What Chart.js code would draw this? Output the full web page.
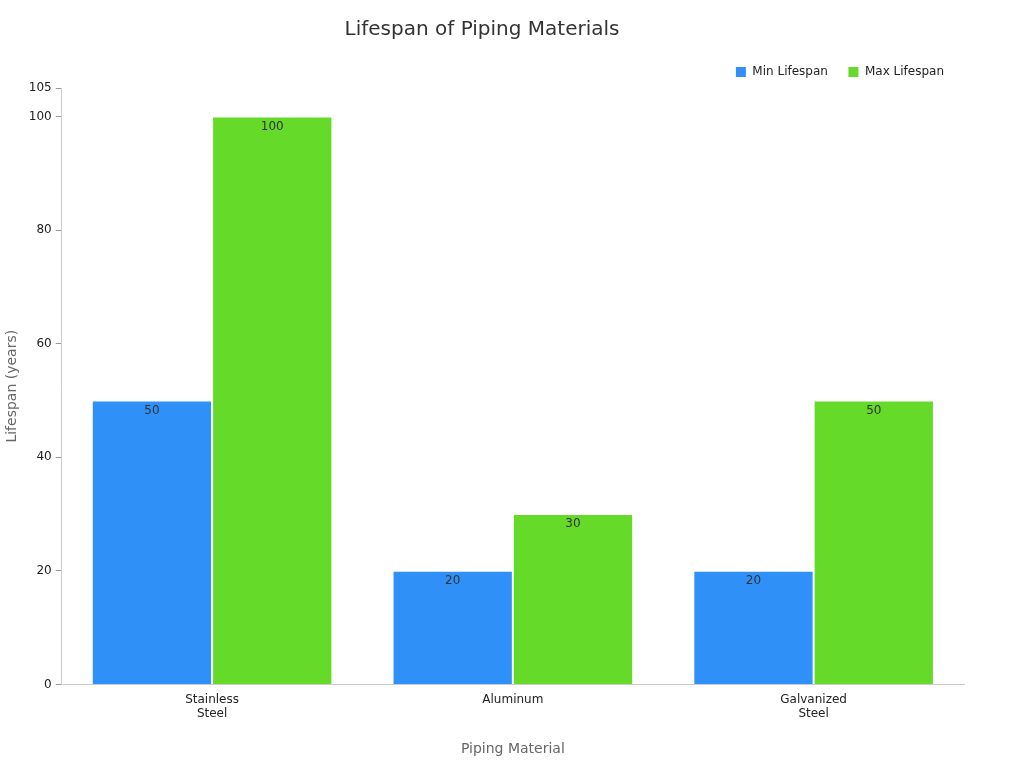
<!DOCTYPE html>
<html>
<head>
<meta charset="utf-8">
<script src="https://cdn.jsdelivr.net/npm/chart.js@4/dist/chart.umd.min.js"></script>
<style>
  html, body { margin: 0; padding: 0; background: #fff; }
</style>
</head>
<body>
<canvas id="grafico" width="1024" height="768"></canvas>
<script>
const categorias = [['Stainless', 'Steel'], 'Aluminum', ['Galvanized', 'Steel']];
const vidaMinima = [50, 20, 20];
const vidaMaxima = [100, 30, 50];
const passoY = 20;

// labels inside the top of each bar
const rotulosBarras = {
    id: 'rotulosBarras',
    afterDatasetsDraw(chart) {
        const ctx = chart.ctx;
        ctx.save();
        ctx.font = '12px "DejaVu Sans", sans-serif';
        ctx.fillStyle = '#333';
        ctx.textAlign = 'center';
        ctx.textBaseline = 'top';
        chart.data.datasets.forEach((ds, i) => {
            chart.getDatasetMeta(i).data.forEach((bar, j) => {
                ctx.fillText(ds.data[j], bar.x, bar.y + 4);
            });
        });
        ctx.restore();
    }
};

Chart.defaults.font.family = '"DejaVu Sans", sans-serif';
Chart.defaults.color = '#222';

new Chart(document.getElementById('grafico'), {
    type: 'bar',
    data: {
        labels: categorias,
        datasets: [
            { label: 'Min Lifespan', data: vidaMinima, backgroundColor: '#2F90F8', borderColor: '#fff', borderWidth: 1 },
            { label: 'Max Lifespan', data: vidaMaxima, backgroundColor: '#66DA28', borderColor: '#fff', borderWidth: 1 }
        ]
    },
    options: {
        responsive: false,
        animation: false,
        layout: { padding: { left: 0, right: 60, top: 10, bottom: 6 } },
        datasets: { bar: { categoryPercentage: 0.8, barPercentage: 1 } },
        plugins: {
            title: { display: true, text: 'Lifespan of Piping Materials', color: '#333', font: { size: 20, weight: 'normal' }, padding: { top: 8, bottom: 4 } },
            legend: {
                align: 'end',
                labels: { usePointStyle: true, pointStyle: 'rect', boxWidth: 11, boxHeight: 11, padding: 20, font: { size: 12 } }
            },
            tooltip: { enabled: false }
        },
        scales: {
            x: {
                grid: { display: false, drawTicks: false },
                border: { color: '#ccc' },
                ticks: { font: { size: 12 }, padding: 8 },
                title: { display: true, text: 'Piping Material', color: '#666', font: { size: 14 }, padding: { top: 12 } }
            },
            y: {
                min: 0, max: 105,
                grid: { drawOnChartArea: false, tickLength: 6, color: '#999' },
                border: { color: '#ccc' },
                ticks: { stepSize: passoY, font: { size: 12 }, padding: 4 },
                title: { display: true, text: 'Lifespan (years)', color: '#666', font: { size: 14 } }
            }
        }
    },
    plugins: [rotulosBarras]
});
</script>
</body>
</html>
